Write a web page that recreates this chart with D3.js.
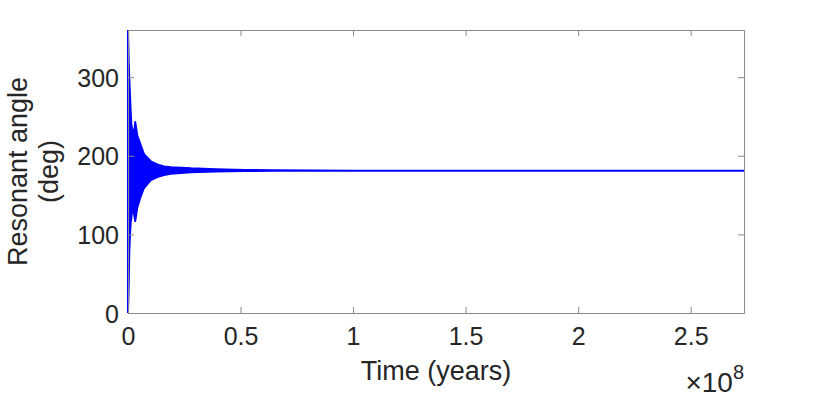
<!DOCTYPE html>
<html>
<head>
<meta charset="utf-8">
<script src="https://cdn.jsdelivr.net/npm/d3@7"></script>
<style>
  body { margin: 0; background: #ffffff; }
  #resonant-angle text { font-family: "Liberation Sans", Arial, sans-serif; fill: #262626; }
</style>
</head>
<body>
<div id="resonant-angle"></div>
<script>
// time in years (dense oscillation shown as its envelope)
var timeYears = [0, 0.31e6, 0.58e6, 0.89e6, 1.2e6, 1.47e6, 1.8e6, 2.4e6, 2.7e6, 3.2e6, 3.8e6, 4.1e6,
                 5.6e6, 7.1e6, 10.1e6, 13.0e6, 16.0e6, 19.0e6, 28.0e6, 39.0e6, 52.0e6, 65.0e6,
                 100e6, 150e6, 200e6, 250e6, 273.7e6];
// upper edge of the oscillation band (deg)
var upperAngle = [360, 320, 298, 277, 255, 240, 235, 230, 228, 243, 232, 226,
                  214, 202, 193, 189, 186.5, 185.5, 184, 183, 182, 181.5,
                  181, 181, 181, 181, 181];
// lower edge of the oscillation band (deg)
var lowerAngle = [0, 36, 79, 100, 116, 120, 131, 129, 126, 117, 128, 134,
                  148, 159, 169, 173, 175.5, 177, 179, 180, 180.5, 181,
                  181, 181, 181, 181, 181];

var xTicks = [0, 0.5e8, 1e8, 1.5e8, 2e8, 2.5e8];
var yTicks = [0, 100, 200, 300];
var xMax = 2.737e8;
var yMax = 360;

/**
 * Constructor for the resonant angle chart
 */
function ResonantAngleChart(){
    var self = this;
    self.init();
};

/**
 * Sets up the svg and the plot box
 */
ResonantAngleChart.prototype.init = function(){
    var self = this;
    self.margin = {top: 30, right: 78, bottom: 87, left: 128};
    self.svgWidth = 822;
    self.svgHeight = 400;
    self.width = self.svgWidth - self.margin.left - self.margin.right;
    self.height = self.svgHeight - self.margin.top - self.margin.bottom;

    self.svg = d3.select("#resonant-angle").append("svg")
        .attr("width", self.svgWidth)
        .attr("height", self.svgHeight);

    self.plot = self.svg.append("g")
        .attr("transform", "translate(" + self.margin.left + "," + self.margin.top + ")");
};

/**
 * Draws axes, band and labels
 */
ResonantAngleChart.prototype.update = function(){
    var self = this;
    var boxColor = "#8a8a8a";
    var tickLen = 6;

    var xScale = d3.scaleLinear().domain([0, xMax]).range([0, self.width]);
    var yScale = d3.scaleLinear().domain([0, yMax]).range([self.height, 0]);

    var data = timeYears.map(function(t, i){
        return {t: t, lo: lowerAngle[i], hi: upperAngle[i]};
    });

    // clip a little wider on the left so the t=0 spike keeps its full width
    self.svg.append("defs").append("clipPath")
        .attr("id", "plot-clip")
        .append("rect")
        .attr("x", -2)
        .attr("width", self.width + 2)
        .attr("height", self.height);

    // oscillation band, stroked so the settled part still reads as a line
    var band = d3.area()
        .x(d => xScale(d.t))
        .y0(d => yScale(d.lo))
        .y1(d => yScale(d.hi));

    self.plot.append("path")
        .datum(data)
        .attr("clip-path", "url(#plot-clip)")
        .attr("d", band)
        .attr("fill", "#0000ff")
        .attr("stroke", "#0000ff")
        .attr("stroke-width", 2)
        .attr("stroke-linejoin", "round");

    // axes, ticks inward on all four sides (box on)
    var fmtX = d => d3.format("~g")(d / 1e8);
    var bottomAxis = d3.axisBottom(xScale).tickValues(xTicks).tickSize(-tickLen).tickPadding(14).tickFormat(fmtX);
    var topAxis = d3.axisTop(xScale).tickValues(xTicks).tickSize(-tickLen).tickFormat("");
    var leftAxis = d3.axisLeft(yScale).tickValues(yTicks).tickSize(-tickLen).tickPadding(9).tickFormat(d3.format("d"));
    var rightAxis = d3.axisRight(yScale).tickValues(yTicks).tickSize(-tickLen).tickFormat("");

    var gx = self.plot.append("g").attr("transform", "translate(0," + self.height + ")").call(bottomAxis);
    var gt = self.plot.append("g").call(topAxis);
    var gy = self.plot.append("g").call(leftAxis);
    var gr = self.plot.append("g").attr("transform", "translate(" + self.width + ",0)").call(rightAxis);

    [gx, gt, gy, gr].forEach(function(g){
        g.select(".domain").attr("stroke", boxColor).attr("stroke-width", 1);
        g.selectAll(".tick line").attr("stroke", boxColor).attr("stroke-width", 1);
        g.selectAll(".tick text").style("font-size", "25px").attr("fill", "#262626");
    });
    gx.selectAll(".tick text").attr("dy", "0.71em");
    gy.selectAll(".tick text").attr("dy", "0.36em");

    // exponent note
    var expo = self.svg.append("text")
        .attr("x", self.margin.left + self.width)
        .attr("y", 392)
        .attr("text-anchor", "end")
        .style("font-size", "28px");
    expo.append("tspan").text("\u00d710");
    expo.append("tspan").attr("dy", -13).style("font-size", "20px").text("8");

    // axis titles
    self.svg.append("text")
        .attr("x", self.margin.left + self.width / 2)
        .attr("y", 380)
        .attr("text-anchor", "middle")
        .style("font-size", "27px")
        .text("Time (years)");

    var yl = self.svg.append("text")
        .attr("transform", "translate(27," + (self.margin.top + self.height / 2) + ") rotate(-90)")
        .attr("text-anchor", "middle")
        .style("font-size", "27px");
    yl.append("tspan").attr("x", 0).attr("y", 0).text("Resonant angle");
    yl.append("tspan").attr("x", 0).attr("y", 31).text("(deg)");
};

var chart = new ResonantAngleChart();
chart.update();
</script>
</body>
</html>
